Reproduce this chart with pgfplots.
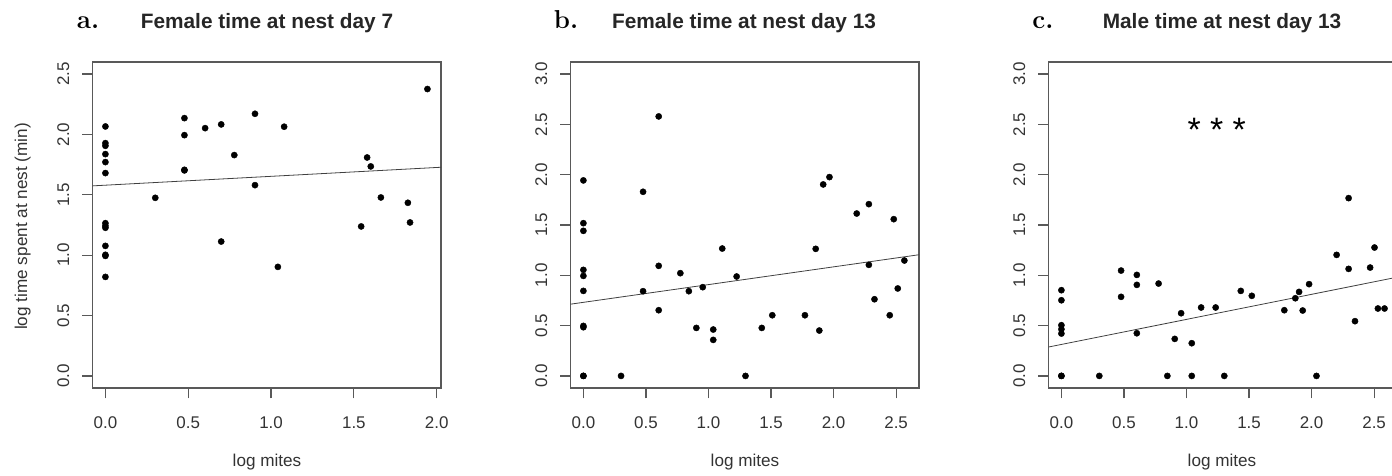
\documentclass[border=0pt]{standalone}
\usepackage{fontspec}
\setmainfont{Liberation Sans}
\newfontfamily\lmrb{Latin Modern Roman}
\usepackage{pgfplots}
\pgfplotsset{compat=1.18}
\pgfplotsset{
  panel/.style={
    scale only axis, width=348.5bp, height=326bp, anchor=south west,
    axis line style={black!65, line width=1.2bp},
    every tick/.style={black!65, line width=1.2bp},
    tick align=outside, major tick length=10.5bp,
    xtick pos=left, ytick pos=left,
    tick label style={font=\fontsize{17}{17}\selectfont, text=black!80},
    /pgf/number format/assume math mode=true,
    /pgf/number format/fixed, /pgf/number format/fixed zerofill, /pgf/number format/precision=1,
    yticklabel style={rotate=90, anchor=base, yshift=12.9bp},
    xticklabel style={anchor=base, yshift=-30.5bp},
  },
  pts/.style={only marks, mark=*, mark size=3.1bp, black},
  fit/.style={black!75, line width=0.8bp},
}
\begin{document}
\begin{tikzpicture}[x=1bp,y=1bp]
\useasboundingbox (0,0) rectangle (1392,476);
\clip (0,0) rectangle (1392,476);

% Panel a
\begin{axis}[panel, at={(92.5bp,88bp)},
  xmin=-0.078, xmax=2.026, ymin=-0.1, ymax=2.6,
  xtick={0,0.5,1,1.5,2}, ytick={0,0.5,1,1.5,2,2.5}]
\addplot[pts] coordinates {
(0,2.066)(0,1.928)(0,1.906)(0,1.837)(0,1.771)(0,1.680)(0,1.265)(0,1.243)(0,1.227)(0,1.077)(0,1.003)(0,0.994)(0,0.820)
(0.301,1.475)
(0.477,2.135)(0.477,1.994)(0.477,1.707)(0.477,1.702)
(0.602,2.052)
(0.699,2.083)(0.699,1.113)
(0.778,1.829)
(0.903,2.171)(0.903,1.580)
(1.041,0.903)
(1.079,2.064)
(1.544,1.238)
(1.580,1.809)
(1.602,1.735)
(1.663,1.478)
(1.826,1.434)
(1.839,1.271)
(1.944,2.376)
};
\addplot[fit] coordinates {(-0.2,1.565) (2.2,1.741)};
\end{axis}

% Panel b
\begin{axis}[panel, at={(570.5bp,88bp)},
  xmin=-0.103, xmax=2.683, ymin=-0.12, ymax=3.12,
  xtick={0,0.5,1,1.5,2,2.5}, ytick={0,0.5,1,1.5,2,2.5,3}]
\addplot[pts] coordinates {
(0,1.943)(0,1.518)(0,1.442)(0,1.054)(0,0.994)(0,0.845)(0,0.497)(0,0.484)(0,0)(0,0)
(0.301,0)
(0.477,1.830)(0.477,0.842)
(0.602,2.579)(0.602,1.094)(0.602,0.653)
(0.775,1.021)
(0.843,0.842)
(0.903,0.477)
(0.954,0.882)
(1.038,0.461)(1.038,0.358)
(1.110,1.266)
(1.225,0.988)
(1.296,0)
(1.426,0.477)
(1.510,0.603)
(1.771,0.603)
(1.857,1.263)
(1.886,0.451)
(1.917,1.903)
(1.967,1.976)
(2.185,1.614)
(2.282,1.707)(2.282,1.104)
(2.327,0.762)
(2.449,0.603)
(2.481,1.558)
(2.513,0.869)
(2.566,1.147)
};
\addplot[fit] coordinates {(-0.2,0.696) (2.8,1.225)};
\end{axis}

% Panel c
\begin{axis}[panel, at={(1048.5bp,88bp)},
  xmin=-0.103, xmax=2.683, ymin=-0.12, ymax=3.12,
  xtick={0,0.5,1,1.5,2,2.5}, ytick={0,0.5,1,1.5,2,2.5,3}]
\addplot[pts] coordinates {
(0,0.852)(0,0.752)(0,0.504)(0,0.464)(0,0.421)(0,0)(0,0)
(0.303,0)
(0.477,1.047)(0.477,0.786)
(0.603,1.004)(0.603,0.905)(0.603,0.424)
(0.777,0.918)
(0.847,0)
(0.906,0.368)
(0.957,0.623)
(1.042,0.325)(1.042,0)
(1.117,0.680)
(1.233,0.680)
(1.302,0)
(1.434,0.845)
(1.522,0.796)
(1.782,0.653)
(1.870,0.772)
(1.900,0.835)
(1.929,0.650)
(1.980,0.912)
(2.039,0)
(2.200,1.203)
(2.296,1.767)(2.296,1.064)
(2.347,0.544)
(2.468,1.077)
(2.503,1.276)
(2.530,0.670)
(2.583,0.670)
};
\addplot[fit] coordinates {(-0.2,0.263) (2.8,1.010)};
\end{axis}

% titles and labels
\node[anchor=base, font=\bfseries\fontsize{20.9}{21}\selectfont, text=black!85] at (267,447.7) {Female time at nest day 7};
\node[anchor=base, font=\bfseries\fontsize{20.9}{21}\selectfont, text=black!85] at (744,447.7) {Female time at nest day 13};
\node[anchor=base, font=\bfseries\fontsize{20.9}{21}\selectfont, text=black!85] at (1222,447.7) {Male time at nest day 13};
\node[anchor=base, font=\lmrb\bfseries\fontsize{26}{26}\selectfont] at (88,447) {a.};
\node[anchor=base, font=\lmrb\bfseries\fontsize{26}{26}\selectfont] at (566,447) {b.};
\node[anchor=base, font=\lmrb\bfseries\fontsize{26}{26}\selectfont] at (1043,447) {c.};
\node[anchor=base, font=\fontsize{17.2}{17.2}\selectfont, text=black!80] at (267,9.3) {log mites};
\node[anchor=base, font=\fontsize{17.2}{17.2}\selectfont, text=black!80] at (745,9.3) {log mites};
\node[anchor=base, font=\fontsize{17.2}{17.2}\selectfont, text=black!80] at (1222,9.3) {log mites};
\node[anchor=base, rotate=90, font=\fontsize{17.2}{17.2}\selectfont, text=black!80] at (27,249.5) {log time spent at nest (min)};
\node[anchor=base, font=\fontsize{34}{34}\selectfont] at (1216.7,334) {* * *};
\end{tikzpicture}
\end{document}
